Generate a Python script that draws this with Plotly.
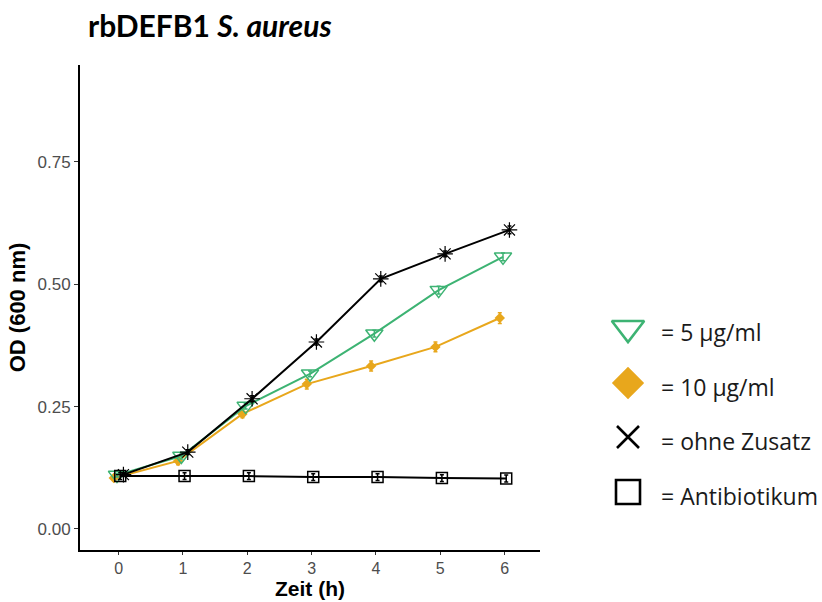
import plotly.graph_objects as go

# Growth curves: optical density over time
zeit = [0, 1, 2, 3, 4, 5, 6]

od_5 = [0.110, 0.149, 0.251, 0.317, 0.399, 0.488, 0.556]
sd_5 = [0.004, 0.006, 0.006, 0.006, 0.007, 0.008, 0.008]

od_10 = [0.104, 0.139, 0.235, 0.296, 0.333, 0.372, 0.431]
sd_10 = [0.005, 0.008, 0.008, 0.010, 0.010, 0.010, 0.011]

od_ohne = [0.111, 0.157, 0.266, 0.382, 0.511, 0.562, 0.611]
sd_ohne = [0.004, 0.005, 0.006, 0.006, 0.006, 0.006, 0.008]

od_ab = [0.108, 0.108, 0.108, 0.106, 0.106, 0.104, 0.103]
sd_ab = [0.007, 0.007, 0.007, 0.007, 0.007, 0.007, 0.007]

legend_labels = ["= 5 µg/ml", "= 10 µg/ml", "= ohne Zusatz", "= Antibiotikum"]

GREEN = "#3DB373"
ORANGE = "#E8A71C"
BLACK = "#000000"
AXFONT = "Liberation Sans, Arial, sans-serif"

fig = go.Figure()

# series: (values, errors, colour, marker symbol, size, marker line width, dodge offset)
series = [
    (od_10, sd_10, ORANGE, "diamond", 8, 0, -0.075),
    (od_5, sd_5, GREEN, "triangle-down-open", 15, 1.5, -0.025),
    (od_ab, sd_ab, BLACK, "square-open", 11, 1.5, 0.025),
    (od_ohne, sd_ohne, BLACK, "asterisk-open", 13, 1.2, 0.075),
]

for vals, errs, col, sym, size, lw, off in series:
    fig.add_trace(go.Scatter(
        x=[t + off for t in zeit], y=vals,
        mode="lines+markers",
        line=dict(color=col, width=2),
        marker=dict(symbol=sym, size=size, color=col,
                    line=dict(color=col, width=lw)),
        error_y=dict(type="data", array=errs, visible=True,
                     color=col, thickness=1.5, width=2),
        showlegend=False, cliponaxis=False,
    ))

# legend panel drawn on its own pixel-scaled axes at the right
leg_y = [328, 383, 437, 492]
leg_sym = ["triangle-down-open", "diamond", "x-thin-open", "square-open"]
leg_col = [GREEN, ORANGE, BLACK, BLACK]
leg_size = [28, 22, 22, 24]
for yy, sym, col, sz in zip(leg_y, leg_sym, leg_col, leg_size):
    fig.add_trace(go.Scatter(
        x=[628], y=[yy], mode="markers", xaxis="x2", yaxis="y2",
        marker=dict(symbol=sym, size=sz, color=col,
                    line=dict(color=col, width=2.6)),
        showlegend=False, cliponaxis=False, hoverinfo="skip",
    ))
for yy, lab in zip(leg_y, legend_labels):
    fig.add_annotation(
        x=659, y=yy + 4, xref="x2", yref="y2", text=lab, showarrow=False,
        xanchor="left", yanchor="middle",
        font=dict(family="Open Sans, sans-serif", size=23, color="#1a1a1a"),
    )

W, H = 822, 602
ML, MR, MT, MB = 80, 2, 65, 52
pw = W - ML - MR
main_right = (540 - ML) / pw
leg_left = (546 - ML) / pw

fig.update_layout(
    width=W, height=H,
    margin=dict(l=ML, r=MR, t=MT, b=MB, autoexpand=False),
    plot_bgcolor="white", paper_bgcolor="white",
    title=dict(
        text="<b>rbDEFB1 <i>S. aureus</i></b>",
        x=88 / W, xanchor="left", y=1 - 26 / H, yanchor="middle",
        font=dict(family="Lato, Open Sans, sans-serif", size=30, color="black"),
    ),
    xaxis=dict(
        domain=[0, main_right],
        range=[-0.6, 6.55],
        tickvals=zeit, ticktext=[str(t) for t in zeit],
        showgrid=False, zeroline=False, automargin=False,
        showline=True, linecolor="black", linewidth=2,
        ticks="outside", ticklen=3, tickcolor="#333333", tickwidth=1,
        tickfont=dict(family=AXFONT, size=16, color="#4d4d4d"),
        title=dict(text="<b>Zeit (h)</b>", standoff=0,
                   font=dict(family=AXFONT, size=21, color="black")),
    ),
    yaxis=dict(
        range=[-0.043, 0.948],
        tickvals=[0, 0.25, 0.5, 0.75],
        ticktext=["0.00", "0.25", "0.50", "0.75"],
        showgrid=False, zeroline=False, automargin=False,
        showline=True, linecolor="black", linewidth=2,
        ticks="outside", ticklen=4, tickcolor="#333333", tickwidth=1,
        tickfont=dict(family=AXFONT, size=17, color="#4d4d4d"),
        title=dict(text="<b>OD (600 nm)</b>", standoff=6,
                   font=dict(family=AXFONT, size=22, color="black")),
    ),
    xaxis2=dict(domain=[leg_left, 1], range=[546, W - MR], visible=False,
                anchor="y2", fixedrange=True),
    yaxis2=dict(domain=[0, 1], range=[H - MB, MT], visible=False,
                anchor="x2", fixedrange=True),
)

fig.write_html("out.html")
